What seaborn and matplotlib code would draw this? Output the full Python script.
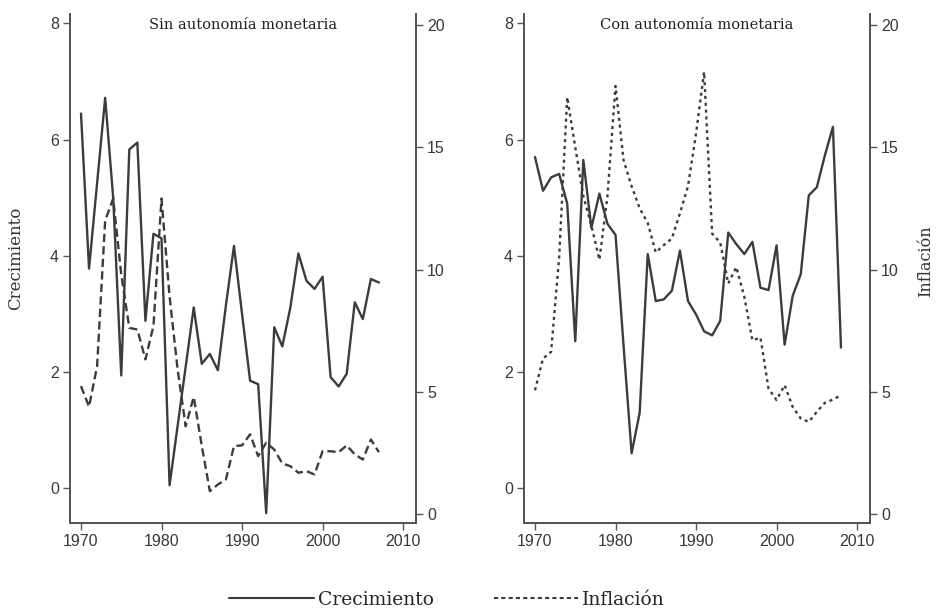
import matplotlib
matplotlib.use("Agg")
import matplotlib.pyplot as plt
from matplotlib.lines import Line2D
import numpy as np
import pandas as pd
import seaborn as sns

# data
years_sin = list(range(1970, 2008))
growth_sin = [6.45, 3.78, 5.25, 6.72, 5.00, 1.94, 5.83, 5.95, 2.88, 4.38,
              4.30, 0.05, 1.07, 2.09, 3.11, 2.14, 2.31, 2.03, 3.15, 4.17,
              3.00, 1.85, 1.79, -0.43, 2.77, 2.44, 3.11, 4.04, 3.57, 3.43,
              3.64, 1.91, 1.75, 1.97, 3.20, 2.91, 3.60, 3.54]
infl_sin = [5.24, 4.40, 6.05, 12.0, 12.9, 9.8, 7.62, 7.55, 6.33, 7.70,
            12.9, 8.90, 5.92, 3.60, 4.80, 2.80, 0.95, 1.22, 1.43, 2.79,
            2.82, 3.27, 2.38, 2.93, 2.65, 2.08, 1.97, 1.70, 1.77, 1.63,
            2.58, 2.58, 2.54, 2.82, 2.45, 2.24, 3.06, 2.54]

years_con = list(range(1970, 2009))
growth_con = [5.70, 5.12, 5.35, 5.41, 4.90, 2.53, 5.65, 4.48, 5.07, 4.55,
              4.36, 2.45, 0.60, 1.30, 4.03, 3.22, 3.25, 3.40, 4.09, 3.22,
              2.99, 2.70, 2.63, 2.88, 4.40, 4.20, 4.03, 4.24, 3.45, 3.41,
              4.18, 2.47, 3.31, 3.68, 5.04, 5.18, 5.73, 6.22, 2.42]
infl_con = [5.07, 6.37, 6.64, 10.5, 17.04, 15.0, 13.0, 11.8, 10.4, 13.0,
            17.5, 14.46, 13.4, 12.5, 11.9, 10.7, 11.0, 11.27, 12.3, 13.4,
            15.55, 18.07, 11.47, 11.1, 9.43, 10.1, 8.88, 7.11, 7.22, 5.14,
            4.67, 5.28, 4.39, 3.92, 3.78, 4.19, 4.56, 4.69, 4.87]

titles = ["Sin autonomía monetaria", "Con autonomía monetaria"]

sns.set_theme(style="white")
plt.rcParams["font.family"] = ["Liberation Sans", "DejaVu Sans"]

line_col = "#3c3c3c"
axis_col = "#555555"
serif = "DejaVu Serif"

fig = plt.figure(figsize=(9.39, 6.16), dpi=100)
panels = [
    (0.0745, years_sin, growth_sin, infl_sin, (0, (3.5, 1.8))),
    (0.558, years_con, growth_con, infl_con, (0, (1.3, 1.6))),
]

for i, (left, yrs, gr, inf, dash) in enumerate(panels):
    ax = fig.add_axes([left, 0.151, 0.3685, 0.826])
    ax2 = ax.twinx()
    df = pd.DataFrame({"year": yrs, "growth": gr, "inflation": inf})

    sns.lineplot(data=df, x="year", y="growth", ax=ax, color=line_col,
                 linewidth=1.7)
    sns.lineplot(data=df, x="year", y="inflation", ax=ax2, color=line_col,
                 linewidth=1.7, linestyle=dash)

    ax.set_xlim(1968.63, 2011.6)
    ax.set_ylim(-0.6, 8.16)
    ax2.set_ylim(-0.35, 20.43)
    ax.set_xticks([1970, 1980, 1990, 2000, 2010])
    ax.set_yticks([0, 2, 4, 6, 8])
    ax2.set_yticks([0, 5, 10, 15, 20])

    for a in (ax, ax2):
        a.spines["top"].set_visible(False)
        for s in ("left", "right", "bottom"):
            a.spines[s].set_color(axis_col)
            a.spines[s].set_linewidth(1.3)
        a.tick_params(direction="out", length=5, width=1, color=axis_col,
                      labelcolor="#383838", labelsize=11.5, pad=3)
        a.grid(False)
    ax.tick_params(left=True, bottom=True)
    ax2.tick_params(right=True)

    ax.set_xlabel("")
    ax.set_ylabel("")
    ax2.set_ylabel("")
    ax.text(0.5, 0.978, titles[i], transform=ax.transAxes, ha="center",
            va="center", fontsize=10.5, family=serif, color="#222222")

# axis titles placed in figure coordinates
fig.text(0.017, 0.58, "Crecimiento", rotation=90, ha="center", va="center",
         family=serif, fontsize=12, color="#333333")
fig.text(0.986, 0.576, "Inflación", rotation=90, ha="center", va="center",
         family=serif, fontsize=11.5, color="#333333")

handles = [Line2D([], [], color=line_col, linewidth=1.5),
           Line2D([], [], color=line_col, linewidth=1.5, linestyle=(0, (2, 1.5)))]
fig.legend(handles, ["Crecimiento", "Inflación"], loc="center",
           bbox_to_anchor=(0.476, 0.026), ncol=2, frameon=False,
           handlelength=4.5, columnspacing=3.2, handletextpad=0.2,
           prop={"family": serif, "size": 13.5})

fig.savefig("out.png", dpi=100)
